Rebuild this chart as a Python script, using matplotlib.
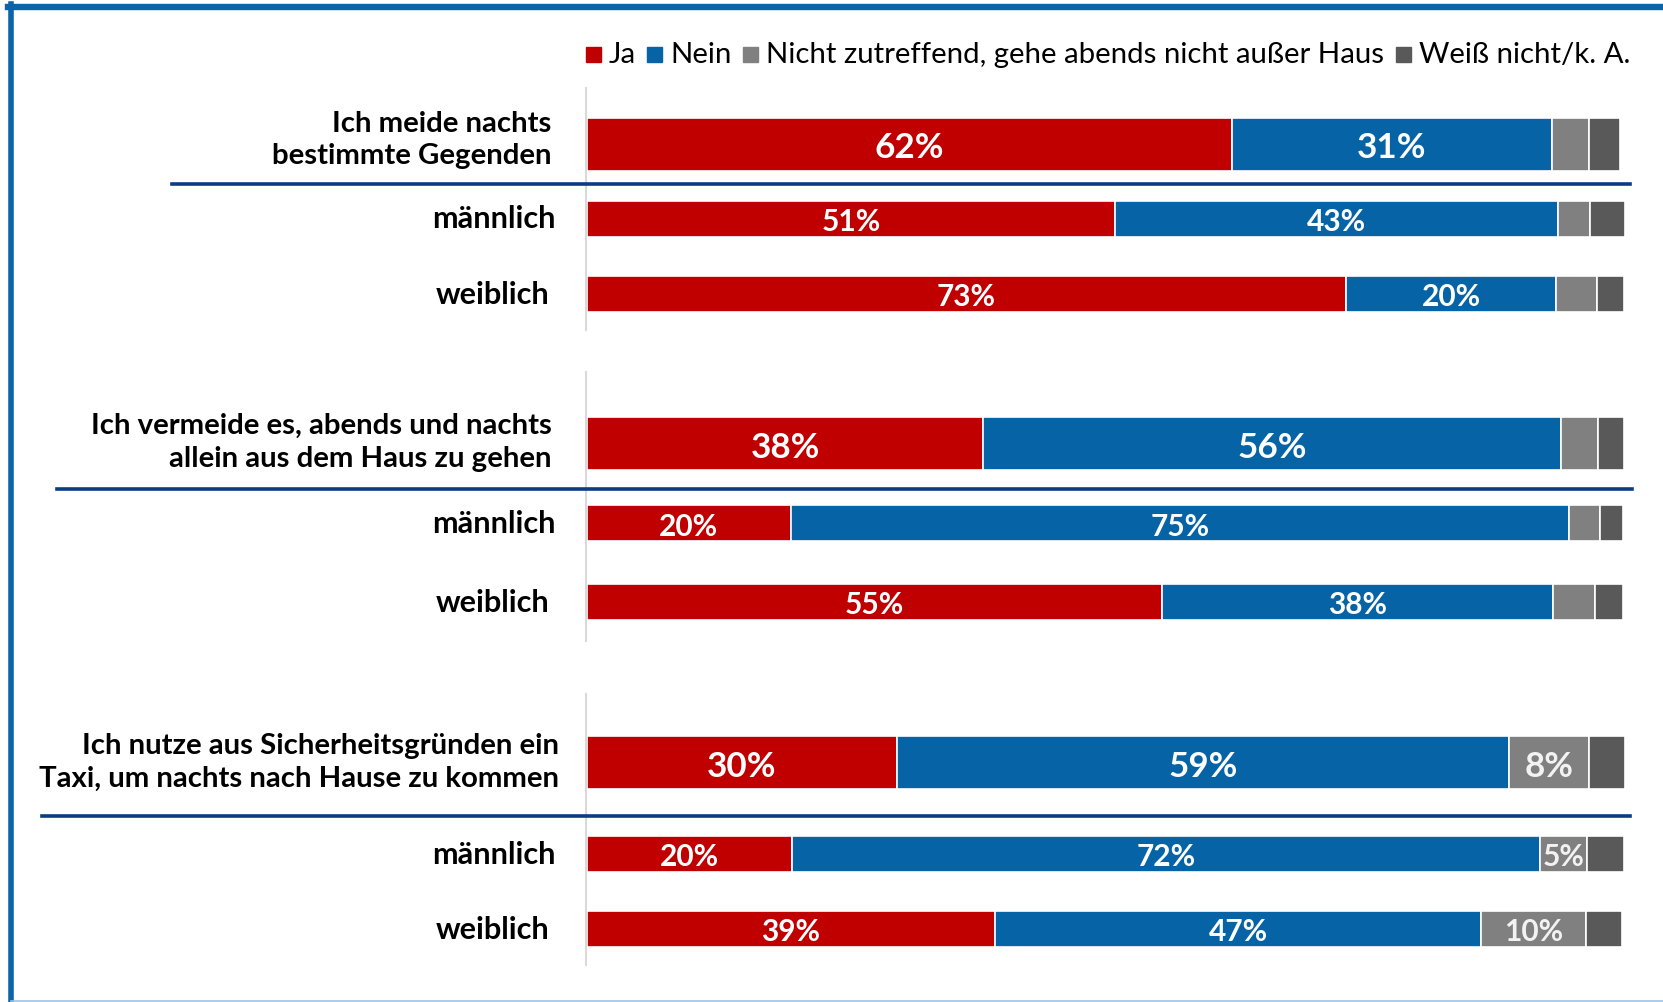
import matplotlib
matplotlib.use("Agg")
import matplotlib.pyplot as plt
from matplotlib.patches import Rectangle
from matplotlib.lines import Line2D

# ---------------- data ----------------
row_labels = ["Ich meide nachts\nbestimmte Gegenden", "männlich", "weiblich ",
              "Ich vermeide es, abends und nachts\nallein aus dem Haus zu gehen", "männlich", "weiblich ",
              "Ich nutze aus Sicherheitsgründen ein\nTaxi, um nachts nach Hause zu kommen", "männlich", "weiblich "]
is_total = [True, False, False, True, False, False, True, False, False]
series_names = ["Ja", "Nein", "Nicht zutreffend, gehe abends nicht außer Haus", "Weiß nicht/k. A."]
ja = [62.0, 50.8, 73.0, 38.1, 19.6, 55.3, 29.8, 19.7, 39.2]
nein = [30.8, 42.6, 20.2, 55.6, 74.8, 37.6, 58.9, 71.9, 46.8]
nicht_zutreffend = [3.5, 3.0, 3.9, 3.5, 3.0, 4.0, 7.6, 4.6, 10.1]
weiss_nicht = [3.0, 3.4, 2.6, 2.5, 2.2, 2.7, 3.5, 3.5, 3.4]
series = [ja, nein, nicht_zutreffend, weiss_nicht]
colors = ["#C00000", "#0563A6", "#808080", "#595959"]

# ---------------- layout ----------------
W, H = 1663, 1003
X0 = 587.0          # pixel of 0 %
PXPCT = 10.4        # pixels per percent
row_y = [145.4, 219.8, 294.8, 444.5, 524.2, 602.8, 763.9, 854.5, 929.5]
bar_h = [53 if t else 36 for t in is_total]

fig = plt.figure(figsize=(W / 100, H / 100), dpi=100)
ax = fig.add_axes([0, 0, 1, 1])
ax.set_xlim(-X0 / PXPCT, (W - X0) / PXPCT)
ax.set_ylim(H, 0)
ax.axis("off")

FONT = "Lato"
renderer = fig.canvas.get_renderer()


def fx(x):
    return x / W


def fy(y):
    return 1 - y / H


def text_w(text, size, weight="bold"):
    t = fig.text(0, 0, text, fontsize=size, fontweight=weight, family=FONT)
    w = t.get_window_extent(renderer).width
    t.remove()
    return w


def fit_size(text, target_w, weight="bold", base=20):
    return base * target_w / text_w(text, base, weight)


title_fs = fit_size("Taxi, um nachts nach Hause zu kommen", 520)
sub_fs = fit_size("männlich", 121) * 1.02
big_lbl_fs = fit_size("62%", 64) * 1.08
small_lbl_fs = fit_size("51%", 55) * 1.08
legend_fs = fit_size("Nicht zutreffend, gehe abends nicht außer Haus", 619, weight="normal")

# ---------------- bars ----------------
lefts = [0.0] * len(row_y)
for si, (vals, col) in enumerate(zip(series, colors)):
    ax.barh(row_y, vals, left=lefts, height=bar_h, color=col,
            edgecolor="white", linewidth=1.2, zorder=3)
    for i, v in enumerate(vals):
        if v >= 4.5:
            fs = big_lbl_fs if is_total[i] else small_lbl_fs
            tcol = "white" if si < 2 else "#F2F2F2"
            ax.text(lefts[i] + v / 2, row_y[i], f"{round(v)}%", ha="center", va="center_baseline",
                    fontsize=fs, fontweight="bold", color=tcol, family=FONT, zorder=4)
    lefts = [l + v for l, v in zip(lefts, vals)]

# vertical axis lines (one per block)
for y0, y1 in [(89, 331), (373, 642), (695, 966)]:
    fig.add_artist(Line2D([fx(585.7), fx(585.7)], [fy(y0), fy(y1)], color="#D9D9D9", lw=1.5, zorder=1))

# separators under total rows
for y, x0, x1 in [(185, 172, 1630), (490, 57, 1632), (816.5, 42, 1630)]:
    fig.add_artist(Line2D([fx(x0), fx(x1)], [fy(y), fy(y)], color="#0A3D86", lw=2.6, zorder=5))

# row labels
label_x = [551.5, 556, 549, 551.5, 556, 549, 559, 556, 549]
label_y = [140, 219.5, 294.8, 442.5, 524, 603.5, 762, 855, 930]
for lab, x, y, tot in zip(row_labels, label_x, label_y, is_total):
    fig.text(fx(x), fy(y), lab.rstrip(), ha="right", va="center", multialignment="right",
             fontsize=title_fs if tot else sub_fs, fontweight="bold", color="black",
             family=FONT, linespacing=1.32)

# legend (chained between ~585 and ~1630 px)
SQ, GAP_IN = 15, 8
L_START, L_END = 585.5, 1630
widths = [text_w(n, legend_fs, "normal") for n in series_names]
GAP_OUT = (L_END - L_START - sum(SQ + GAP_IN + w for w in widths)) / (len(widths) - 1)
x = L_START
for name, col, w in zip(series_names, colors, widths):
    fig.add_artist(Rectangle((fx(x), fy(62.5)), SQ / W, SQ / H, color=col))
    fig.text(fx(x + SQ + GAP_IN), fy(55), name, ha="left", va="center", fontsize=legend_fs,
             family=FONT, color="black")
    x += SQ + GAP_IN + w + GAP_OUT

# frame
fig.add_artist(Line2D([fx(8), 1], [fy(7.5), fy(7.5)], color="#0B64A8", lw=4.6))
fig.add_artist(Line2D([fx(11.2), fx(11.2)], [fy(4.5), 0], color="#0B64A8", lw=4.0))
fig.add_artist(Line2D([fx(11), 1], [fy(1001.5), fy(1001.5)], color="#9DC3E6", lw=1.2))

fig.savefig("out.png", dpi=100, facecolor="white")
